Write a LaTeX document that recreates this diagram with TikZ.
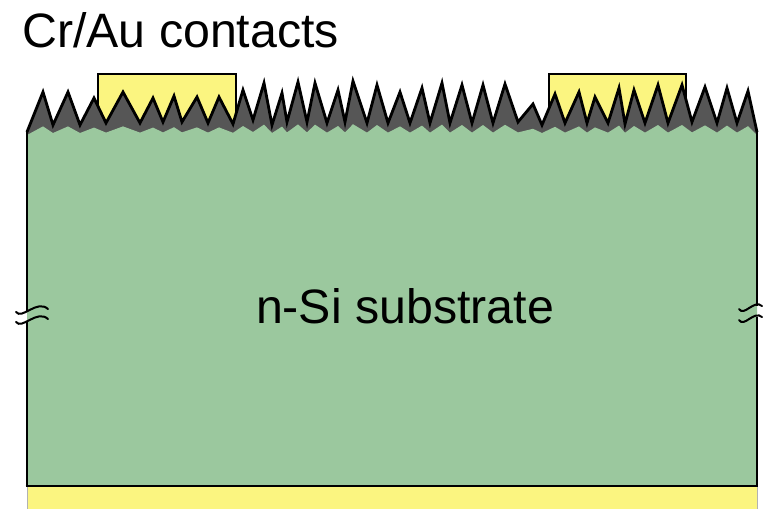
\documentclass[tikz,border=0pt]{standalone}
\usepackage{fontspec}
\setmainfont{Liberation Sans}
\begin{document}
\begin{tikzpicture}[x=1pt,y=-1pt,
  contact/.style={fill=contactyellow,draw=black,line width=2.4pt},
  spikefill/.style={fill=spikegray},
  spikeedge/.style={draw=black,line width=2.8pt,line join=miter},
  edge/.style={draw=black,line width=2.6pt},
  breakmark/.style={draw=black,line width=2pt,line cap=round},
  label/.style={inner sep=0pt,font=\fontsize{48.3}{58}\selectfont}]
\definecolor{contactyellow}{HTML}{FBF580}
\definecolor{siliconbase}{HTML}{9BC89E}
\definecolor{spikegray}{HTML}{565656}
\useasboundingbox (0,0) rectangle (764,509);

% metal contacts, partly buried by the black-silicon spikes
\draw[contact] (98,74) rectangle (236,128);
\draw[contact] (549,74) rectangle (686,128);

% dark black-silicon layer
\fill[spikefill] plot coordinates {(27,132) (43,92) (53,125) (68,92) (80,125) (94,98) (106,123) (123,92) (140,123) (153,98) (163,122) (174,96) (182,122) (197,97) (208,123) (219,97) (233,124) (243,90) (253,120) (264,83) (272,125) (282,93) (287,122) (298,82) (307,122) (315,83) (327,123) (338,90) (345,122) (353,81) (367,123) (377,85) (388,123) (400,92) (410,123) (422,88) (430,123) (442,83) (450,123) (462,85) (472,123) (483,85) (493,123) (505,84) (518,122) (533,104) (542,125) (555,94) (565,123) (579,92) (587,123) (595,97) (608,123) (619,88) (625,124) (634,90) (645,123) (658,85) (668,123) (682,85) (692,122) (705,87) (717,123) (727,88) (737,123) (748,91) (757,132)}
  -- (757,142) -- (27,142) -- cycle;

% substrate: its top edge repeats the spike profile at one fifth of the height
\begin{scope}[y={(0,-0.2pt)},yshift=-108pt]
\fill[siliconbase] plot coordinates {(27,135) (43,92) (53,125) (68,92) (80,125) (94,98) (106,123) (123,92) (140,123) (153,98) (163,122) (174,96) (182,122) (197,97) (208,123) (219,97) (233,124) (243,90) (253,120) (264,83) (272,125) (282,93) (287,122) (298,82) (307,122) (315,83) (327,123) (338,90) (345,122) (353,81) (367,123) (377,85) (388,123) (400,92) (410,123) (422,88) (430,123) (442,83) (450,123) (462,85) (472,123) (483,85) (493,123) (505,84) (518,122) (533,104) (542,125) (555,94) (565,123) (579,92) (587,123) (595,97) (608,123) (619,88) (625,124) (634,90) (645,123) (658,85) (668,123) (682,85) (692,122) (705,87) (717,123) (727,88) (737,123) (748,91) (757,135)}
  -- (757,1890) -- (27,1890) -- cycle;
\end{scope}

% spike outline
\draw[spikeedge] plot coordinates {(27,132) (43,92) (53,125) (68,92) (80,125) (94,98) (106,123) (123,92) (140,123) (153,98) (163,122) (174,96) (182,122) (197,97) (208,123) (219,97) (233,124) (243,90) (253,120) (264,83) (272,125) (282,93) (287,122) (298,82) (307,122) (315,83) (327,123) (338,90) (345,122) (353,81) (367,123) (377,85) (388,123) (400,92) (410,123) (422,88) (430,123) (442,83) (450,123) (462,85) (472,123) (483,85) (493,123) (505,84) (518,122) (533,104) (542,125) (555,94) (565,123) (579,92) (587,123) (595,97) (608,123) (619,88) (625,124) (634,90) (645,123) (658,85) (668,123) (682,85) (692,122) (705,87) (717,123) (727,88) (737,123) (748,91) (757,132)};

% back contact
\fill[contactyellow] (27,486) rectangle (757,512);
\draw[gray!60,line width=1pt] (27,486) -- (27,512) (757,486) -- (757,512);

% substrate side edges, interrupted by the break marks, and bottom edge
\draw[edge] (27,131) -- (27,312);
\draw[edge] (27,322) -- (27,487);
\draw[edge] (757,131) -- (757,306);
\draw[edge] (757,317) -- (757,487);
\draw[edge] (25.7,486) -- (758.3,486);

% break marks
\draw[breakmark] (16,312) .. controls (22,320) and (37,299) .. (48,309);
\draw[breakmark] (16,322) .. controls (22,330) and (37,309) .. (48,319);
\draw[breakmark] (739,309) .. controls (744,317) and (754,299) .. (762,306);
\draw[breakmark] (739,320) .. controls (744,328) and (754,310) .. (762,317);

% labels
\node[label,anchor=base west] (contacts) at (22,47) {Cr/Au contacts};
\node[label,anchor=base] (substrate) at (405,323) {n-Si substrate};
\end{tikzpicture}
\end{document}
